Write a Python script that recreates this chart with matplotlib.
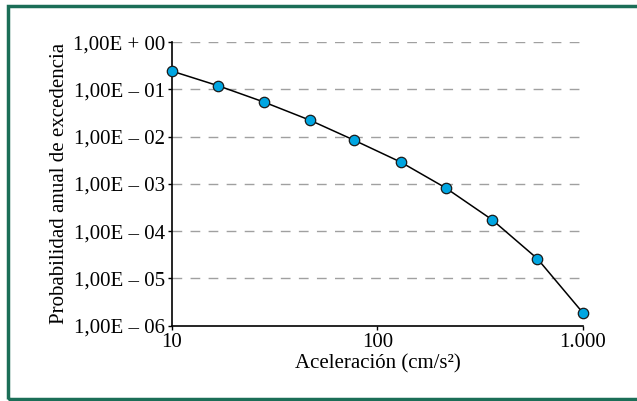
import matplotlib.pyplot as plt
from matplotlib.patches import Rectangle
from matplotlib.ticker import FixedLocator, FixedFormatter

plt.rcParams['font.family'] = ['Liberation Serif', 'DejaVu Serif']

# data
aceleracion = [10, 16.8, 27.9, 47, 77, 130, 215, 361, 601, 1000]
probabilidad = [0.243, 0.119, 0.0543, 0.0222, 0.0084, 0.00288, 8.2e-4, 1.75e-4, 2.6e-5, 1.87e-6]

y_ticks = [1e0, 1e-1, 1e-2, 1e-3, 1e-4, 1e-5, 1e-6]
y_labels = ['1,00E + 00', '1,00E \u2013 01', '1,00E \u2013 02', '1,00E \u2013 03',
            '1,00E \u2013 04', '1,00E \u2013 05', '1,00E \u2013 06']
x_ticks = [10, 100, 1000]
x_labels = ['10', '100', '1.000']

fig = plt.figure(figsize=(6.37, 4.01), dpi=100)
ax = fig.add_axes([0.27, 0.188, 0.645, 0.707])

# green frame round the figure (right side is cut off in the original)
fig.patches.append(Rectangle((7.5 / 637, 2 / 401), 1.2, 393.5 / 401, transform=fig.transFigure,
                             fill=False, edgecolor='#1b6e57', lw=2.5))

for t in y_ticks[:-1]:
    ax.plot([10, 1000], [t, t], color='#a0a0a0', lw=1, ls=(0, (7, 6)), zorder=1)

ax.plot(aceleracion, probabilidad, '-', color='black', lw=1.1, zorder=2)
ax.plot(aceleracion, probabilidad, 'o', markersize=7.5, markerfacecolor='#00a6e2',
        markeredgecolor='#1a1a1a', markeredgewidth=0.9, zorder=3, clip_on=False)

ax.set_xscale('log')
ax.set_yscale('log')
ax.set_xlim(10, 1000)
ax.set_ylim(1e-6, 1e0)

ax.yaxis.set_major_locator(FixedLocator(y_ticks))
ax.yaxis.set_major_formatter(FixedFormatter(y_labels))
ax.yaxis.set_minor_locator(FixedLocator([]))
ax.xaxis.set_major_locator(FixedLocator(x_ticks))
ax.xaxis.set_major_formatter(FixedFormatter(x_labels))
ax.xaxis.set_minor_locator(FixedLocator([]))

ax.spines['top'].set_visible(False)
ax.spines['right'].set_visible(False)
ax.spines['left'].set_linewidth(1.2)
ax.spines['bottom'].set_linewidth(1.2)
ax.tick_params(axis='both', direction='out', length=3, width=1, labelsize=15, pad=2)

ax.set_xlabel('Aceleración (cm/s\u00b2)', fontsize=15, labelpad=2)
ax.set_ylabel('Probabilidad anual de excedencia', fontsize=15, labelpad=3)

fig.savefig('out.png', dpi=100)
